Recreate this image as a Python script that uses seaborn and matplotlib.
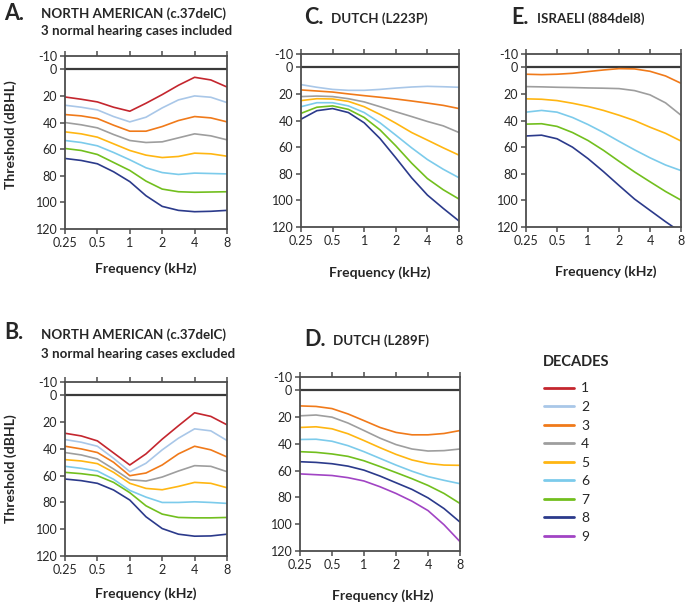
import numpy as np
import pandas as pd
import seaborn as sns
import matplotlib.pyplot as plt

# frequencies (kHz) at which curves were read
freqs = [0.25, 0.354, 0.5, 0.707, 1, 1.414, 2, 2.83, 4, 5.66, 8]

decade_colors = {
    1: "#c4262e", 2: "#a9c7e8", 3: "#f07a1a", 4: "#9e9e9e", 5: "#ffb612",
    6: "#7ccbeb", 7: "#72bf1e", 8: "#2b3a8b", 9: "#a144c4",
}

# A. North American, normal hearing cases included
na_incl = {
    1: [20.8, 22.5, 24.5, 28.5, 31.5, 25.5, 19, 12, 6, 8, 13.3],
    2: [27, 28.5, 30.5, 35.5, 39.5, 36, 29, 23, 20, 21, 25],
    3: [34, 35, 37, 42, 46.5, 46.5, 43, 38.5, 35.5, 36.5, 39.5],
    4: [40, 41.7, 44, 49, 53.5, 55, 54.5, 51.5, 48.5, 50, 53],
    5: [47, 48.5, 51, 56, 61, 64.5, 66.3, 65.5, 63, 63.5, 65.3],
    6: [53.5, 55, 57.5, 62.5, 68, 74, 77.6, 79, 78, 78.3, 78.6],
    7: [59.5, 61, 64, 70, 76, 84, 90, 92, 92.4, 92.2, 92],
    8: [67, 68.5, 71, 77, 84.4, 95, 103, 106, 107, 106.7, 106],
}

# B. North American, normal hearing cases excluded
na_excl = {
    1: [28.3, 30.3, 34, 43, 52, 43.7, 32.7, 22.7, 13, 15.7, 22],
    2: [33, 35, 38, 47, 57, 50.7, 40.7, 32, 25, 26.5, 33.7],
    3: [38, 40, 42.7, 50, 60, 58, 52, 43.7, 38, 40.7, 46],
    4: [42.7, 44.5, 47.5, 55, 63, 64, 61, 56.5, 52.5, 53, 57],
    5: [48, 49, 51, 57.5, 65.7, 69.5, 70.5, 68, 65, 65.7, 69],
    6: [53, 54.5, 56.5, 62.7, 71, 76, 80, 80, 79.5, 80, 80.7],
    7: [57.5, 58.5, 60, 65, 72.7, 82.5, 88.7, 91.2, 91.5, 91.5, 91.2],
    8: [62.5, 63.7, 65.7, 70.7, 78.2, 90.7, 99.5, 103.7, 105.2, 105, 103.7],
}

# C. Dutch L223P
dutch_l223p = {
    2: [13, 15, 16.6, 17.3, 17.3, 16.6, 15.6, 14.8, 14.3, 14.6, 15],
    3: [17, 17.8, 18.6, 20, 21.3, 22.5, 23.8, 25.3, 26.9, 28.6, 31],
    4: [22, 21.6, 22, 23.6, 26, 29.6, 33.4, 37, 40.7, 44, 49],
    5: [25, 23.6, 23.8, 25.6, 29.6, 35.4, 42, 49, 54.7, 60.5, 66],
    6: [29.6, 26.6, 26.6, 29, 34, 41.7, 51, 60.5, 69.3, 76.6, 83],
    7: [34.6, 30, 29, 31.6, 37.7, 47, 59, 72, 83.6, 92, 99],
    8: [39, 32.6, 31, 34, 41.7, 53.5, 68, 83, 96, 106, 115.5],
}

# D. Dutch L289F
dutch_l289f = {
    3: [11.6, 12, 13.6, 17.6, 22.6, 27.7, 31.4, 33.2, 33.2, 32.2, 30],
    4: [19, 18.4, 20, 24.4, 30, 35.7, 40.5, 43.8, 45.3, 45, 43.8],
    5: [27.7, 27.2, 28.7, 32.4, 37.5, 42.8, 47.8, 52, 54.6, 55.8, 56],
    6: [36.7, 36.5, 38, 41.3, 45.8, 50.8, 55.8, 60.4, 64.4, 67.2, 69.7],
    7: [45.8, 46.3, 47.5, 49.3, 52.6, 56.9, 61.4, 66, 71, 77, 84.5],
    8: [53.3, 53.8, 54.8, 56.6, 59.6, 64, 69, 74, 80.3, 88.3, 98.4],
    9: [62.4, 63, 63.6, 65.2, 67.7, 72, 77, 82.8, 89.8, 100.4, 113],
}

# E. Israeli 884del8
israeli = {
    3: [5.2, 5.5, 5.2, 4.5, 3.2, 2, 1, 1.2, 3, 6.5, 12],
    4: [14.5, 14.7, 15, 15.2, 15.5, 15.7, 16, 17.5, 20.7, 26.7, 36],
    5: [23.7, 24, 25, 27, 29.4, 32.4, 36, 40, 45, 49.6, 55.4],
    6: [33.7, 32.4, 33.7, 37.7, 43, 49, 55.6, 62, 68, 73.4, 77.6],
    7: [42.7, 42.4, 44.4, 49, 55, 62.4, 70.6, 78.6, 86, 93.3, 99.8],
    8: [51.6, 51, 53.7, 60, 68.6, 78.4, 88.8, 99, 107.5, 116, 124],
}

x_ticks = [0.25, 0.5, 1, 2, 4, 8]
x_ticklabels = ["0.25", "0.5", "1", "2", "4", "8"]
y_ticks = [-10, 0, 20, 40, 60, 80, 100, 120]
y_ticklabels = ["-10", "0", "20", "40", "60", "80", "100", "120"]

W, H = 685, 604
sns.set_style("white")
plt.rcParams["font.family"] = ["Lato", "DejaVu Sans"]
plt.rcParams["axes.unicode_minus"] = False

fig = plt.figure(figsize=(W / 100, H / 100), dpi=100)


def box(x0, y0, x1, y1):
    return [x0 / W, 1 - y1 / H, (x1 - x0) / W, (y1 - y0) / H]


def ftext(x, y, s, **kw):
    fig.text(x / W, 1 - y / H, s, **kw)


def to_long(curves):
    rows = []
    for dec, vals in curves.items():
        for f, v in zip(freqs, vals):
            rows.append({"freq": f, "thr": v, "decade": dec})
    return pd.DataFrame(rows)


def draw_panel(rect, curves):
    ax = fig.add_axes(rect)
    df = to_long(curves)
    sns.lineplot(data=df, x="freq", y="thr", hue="decade", palette=decade_colors,
                 lw=1.2, legend=False, ax=ax)
    ax.axhline(0, color="#3a3a3a", lw=1.6, zorder=1)
    ax.set_xscale("log", base=2)
    ax.set_xlim(0.25, 8)
    ax.set_ylim(120, -10)
    ax.set_xticks(x_ticks)
    ax.set_xticklabels(x_ticklabels)
    ax.minorticks_off()
    ax.set_yticks(y_ticks)
    ax.set_yticklabels(y_ticklabels)
    ax.set_xlabel("")
    ax.set_ylabel("")
    for s in ax.spines.values():
        s.set_color("#4d4d4d")
        s.set_linewidth(1.3)
    ax.tick_params(direction="out", length=3.5, width=1.1, color="#4d4d4d",
                   labelsize=9, pad=2, top=True, bottom=True, left=True, right=False)
    return ax


draw_panel(box(65, 56, 227, 229), na_incl)
draw_panel(box(65, 382, 227, 556), na_excl)
draw_panel(box(301, 54, 459, 227), dutch_l223p)
draw_panel(box(300, 377, 460, 551), dutch_l289f)
draw_panel(box(526, 54, 681, 227), israeli)

# panel titles
big = dict(fontsize=15.5, fontweight="bold", va="baseline", ha="left")
small = dict(fontsize=9.6, fontweight="bold", va="baseline", ha="left")
ftext(4, 20, "A.", **big)
ftext(41, 18, "NORTH AMERICAN (c.37delC)", **small)
ftext(41, 35, "3 normal hearing cases included", **small)
ftext(4, 339, "B.", **big)
ftext(41, 339, "NORTH AMERICAN (c.37delC)", **small)
ftext(41, 358, "3 normal hearing cases excluded", **small)
ftext(304, 24, "C.", **big)
ftext(331, 23, "DUTCH (L223P)", **small)
ftext(304, 346, "D.", **big)
ftext(333, 345, "DUTCH (L289F)", **small)
ftext(511, 24, "E.", **big)
ftext(537, 23, "ISRAELI (884del8)", **small)

# axis labels
lab = dict(fontsize=10, fontweight="bold", ha="center", va="baseline")
ftext(146, 273, "Frequency (kHz)", **lab)
ftext(380, 277, "Frequency (kHz)", **lab)
ftext(606, 276, "Frequency (kHz)", **lab)
ftext(146, 598, "Frequency (kHz)", **lab)
ftext(383, 600, "Frequency (kHz)", **lab)
ftext(11, 135, "Threshold (dBHL)", rotation=90, fontsize=10, fontweight="bold",
      ha="center", va="center")
ftext(11, 469, "Threshold (dBHL)", rotation=90, fontsize=10, fontweight="bold",
      ha="center", va="center")

# legend
ftext(543, 366, "DECADES", fontsize=10.5, fontweight="bold", ha="left", va="baseline")
handles = [plt.Line2D([], [], color=decade_colors[d], lw=2) for d in decade_colors]
labels = [str(d) for d in decade_colors]
leg = fig.legend(handles, labels, loc="upper left",
                 bbox_to_anchor=(531 / W, 1 - 370 / H), frameon=False,
                 fontsize=10, handlelength=2.2, handletextpad=0.5,
                 labelspacing=0.47)

fig.savefig("out.png", dpi=100)
